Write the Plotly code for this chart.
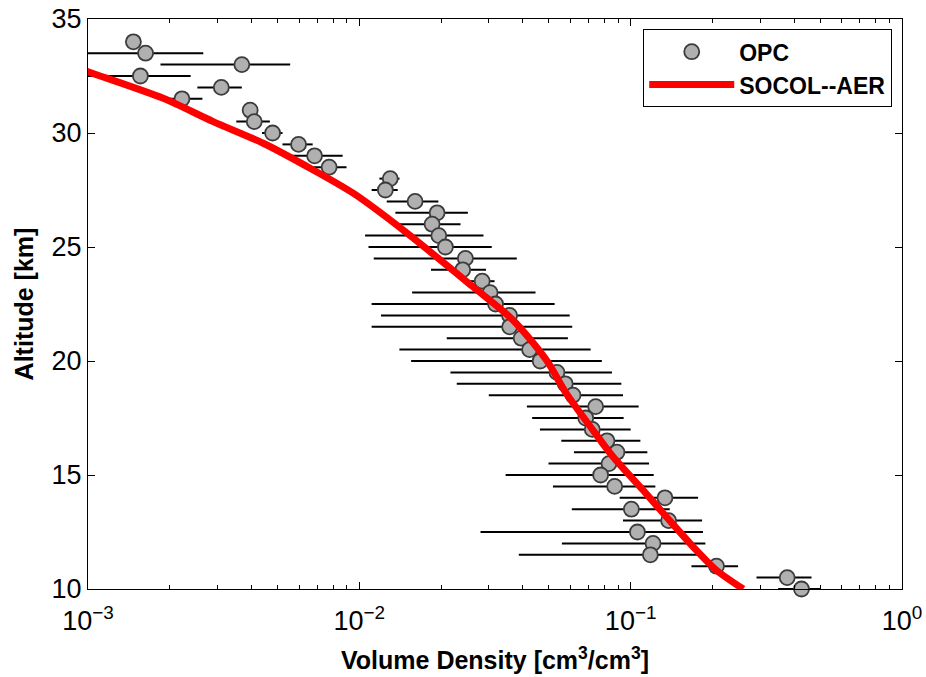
import plotly.graph_objects as go

# OPC measurements: altitude [km], volume density, lower/upper bounds
alt_opc = [34.0, 33.5, 33.0, 32.5, 32.0, 31.5, 31.0, 30.5, 30.0, 29.5, 29.0, 28.5,
           28.0, 27.5, 27.0, 26.5, 26.0, 25.5, 25.0, 24.5, 24.0, 23.5, 23.0, 22.5,
           22.0, 21.5, 21.0, 20.5, 20.0, 19.5, 19.0, 18.5, 18.0, 17.5, 17.0, 16.5,
           16.0, 15.5, 15.0, 14.5, 14.0, 13.5, 13.0, 12.5, 12.0, 11.5, 11.0, 10.5, 10.0]
opc_val = [0.00147, 0.00163, 0.00369, 0.00156, 0.00310, 0.00222, 0.00396, 0.00410,
           0.00479, 0.00597, 0.00684, 0.00774, 0.0130, 0.01247, 0.01605, 0.01935,
           0.01854, 0.01963, 0.02076, 0.0246, 0.02405, 0.02836, 0.03034, 0.03177,
           0.03578, 0.0358, 0.0395, 0.0424, 0.0464, 0.0535, 0.0574, 0.0613, 0.0743,
           0.0683, 0.0722, 0.0818, 0.0890, 0.0832, 0.0775, 0.0873, 0.1338, 0.1006,
           0.1380, 0.1059, 0.1209, 0.1182, 0.2071, 0.3775, 0.4261]
opc_lo = [0.00144, 0.00100, 0.00185, 0.00100, 0.00253, 0.00196, 0.00380, 0.00352,
          0.00438, 0.00521, 0.00536, 0.00650, 0.01186, 0.0111, 0.01262, 0.01358,
          0.01373, 0.0105, 0.01081, 0.0113, 0.01837, 0.0255, 0.01565, 0.0111,
          0.01202, 0.0111, 0.0210, 0.01405, 0.01552, 0.02167, 0.02286, 0.0300, 0.04145,
          0.04335, 0.0463, 0.0555, 0.0618, 0.0498, 0.0346, 0.0517, 0.0911, 0.0607,
          0.0937, 0.02796, 0.0558, 0.0387, 0.1675, 0.2909, 0.3496]
opc_hi = [0.00150, 0.00266, 0.00556, 0.00239, 0.00369, 0.00264, 0.00415, 0.00468,
          0.00521, 0.00673, 0.00868, 0.00897, 0.01406, 0.01385, 0.01956, 0.02512,
          0.0236, 0.02868, 0.03076, 0.03805, 0.0293, 0.0315, 0.0446, 0.05245,
          0.0596, 0.0609, 0.0587, 0.0712, 0.0783, 0.0853, 0.0924, 0.0937, 0.1070,
          0.0942, 0.1000, 0.1086, 0.1152, 0.1169, 0.1216, 0.1233, 0.1772, 0.1393,
          0.1833, 0.1847, 0.1885, 0.1822, 0.2488, 0.4640, 0.5000]

# SOCOL-AER model profile
alt_model = [10.0, 10.83, 11.86, 13.17, 14.34, 15.80, 16.97, 18.58, 20.04, 21.8,
             23.26, 25.8, 27.36, 28.38, 29.55, 30.5, 31.52, 32.69, 33.0]
model_val = [0.260, 0.2068, 0.1696, 0.1353, 0.1110, 0.0861, 0.0726, 0.0579, 0.0489,
             0.0368, 0.0262, 0.0143, 0.00949, 0.00676, 0.004426, 0.002893, 0.001894,
             0.00100, 0.00085]

x_tickvals = [1e-3, 1e-2, 1e-1, 1e0]
x_ticktext = ["10<sup>\u22123</sup>", "10<sup>\u22122</sup>", "10<sup>\u22121</sup>", "10<sup>0</sup>"]
y_tickvals = [10, 15, 20, 25, 30, 35]

plus = [h - v for h, v in zip(opc_hi, opc_val)]
minus = [v - l for v, l in zip(opc_val, opc_lo)]

fig = go.Figure()
fig.add_trace(go.Scatter(
    x=opc_val, y=alt_opc, mode="markers", name="<b>OPC</b>",
    marker=dict(size=15, color="#b0b0b0", line=dict(color="#3c3c3c", width=1.8)),
    error_x=dict(type="data", symmetric=False, array=plus, arrayminus=minus,
                 color="black", thickness=2, width=0),
    cliponaxis=False,
))
fig.add_trace(go.Scatter(
    x=model_val, y=alt_model, mode="lines", name="<b>SOCOL--AER</b>",
    line=dict(color="#ff0000", width=7, shape="spline", smoothing=0.8),
))

minor_vals = [k * 10 ** e for e in (-3, -2, -1) for k in range(2, 10)]

fig.update_layout(
    width=926, height=677,
    margin=dict(l=88, r=24, t=19, b=88, autoexpand=False),
    paper_bgcolor="white", plot_bgcolor="white",
    font=dict(family="Liberation Sans, Arial, sans-serif", color="black", size=26),
    showlegend=True,
    legend=dict(x=0.988, y=0.982, xanchor="right", yanchor="top",
                bgcolor="white", bordercolor="black", borderwidth=1,
                font=dict(size=23, family="Liberation Sans, Arial, sans-serif"),
                tracegroupgap=0, itemwidth=85),
)
fig.update_xaxes(
    type="log", range=[-3, 0], automargin=False,
    tickmode="array", tickvals=x_tickvals, ticktext=x_ticktext,
    ticks="inside", ticklen=7, tickcolor="black", tickwidth=1,
    showline=True, linecolor="black", linewidth=1, mirror="ticks",
    showgrid=False, zeroline=False,
    tickfont=dict(size=27), ticklabelstandoff=8,
    minor=dict(tickmode="array", tickvals=minor_vals, ticks="inside", ticklen=4,
               tickcolor="black", showgrid=False),
    title=dict(text="<b>Volume Density [cm<sup>3</sup>/cm<sup>3</sup>]</b>",
               font=dict(size=25), standoff=16),
)
fig.update_yaxes(
    range=[10, 35], automargin=False,
    tickmode="array", tickvals=y_tickvals,
    ticks="inside", ticklen=7, tickcolor="black", tickwidth=1,
    showline=True, linecolor="black", linewidth=1, mirror="ticks",
    showgrid=False, zeroline=False,
    tickfont=dict(size=27),
    title=dict(text="<b>Altitude [km]</b>", font=dict(size=25), standoff=10),
)

fig.write_html("out.html")
